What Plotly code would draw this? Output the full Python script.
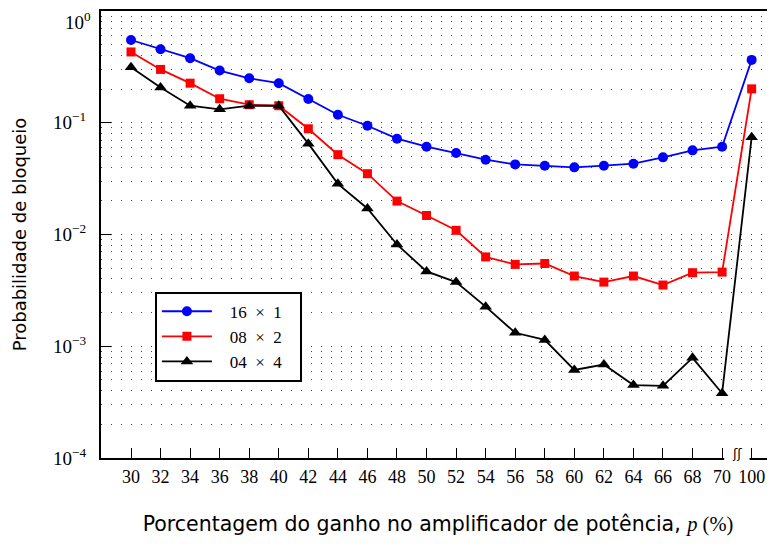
import plotly.graph_objects as go

# gain percentage p (%) -- the axis is broken between 70 and 100
p_values = [30, 32, 34, 36, 38, 40, 42, 44, 46, 48, 50,
            52, 54, 56, 58, 60, 62, 64, 66, 68, 70, 100]

# blocking probability for each switch arrangement
blk_16x1 = [0.55, 0.455, 0.378, 0.293, 0.25, 0.226, 0.163, 0.118, 0.094, 0.072, 0.061,
            0.0536, 0.0467, 0.0424, 0.0413, 0.0399, 0.0413, 0.043, 0.049, 0.0566, 0.061, 0.365]
blk_08x2 = [0.43, 0.30, 0.226, 0.164, 0.145, 0.142, 0.0883, 0.0518, 0.035, 0.0199, 0.0148,
            0.0109, 0.0063, 0.0054, 0.0055, 0.00425, 0.00375, 0.00425, 0.00353, 0.00455, 0.00461, 0.201]
blk_04x4 = [0.314, 0.207, 0.142, 0.132, 0.142, 0.142, 0.065, 0.0284, 0.0171, 0.00814, 0.00467,
            0.00375, 0.00226, 0.00132, 0.00114, 0.000614, 0.000686, 0.000449, 0.000442, 0.000787, 0.00038, 0.074]

series_names = ["16 × 1", "08 × 2", "04 × 4"]

y_tickvals = [1e-4, 1e-3, 1e-2, 1e-1, 1]
y_ticktext = ["10<sup>\u22124</sup>", "10<sup>\u22123</sup>", "10<sup>\u22122</sup>",
              "10<sup>\u22121</sup>", "10<sup>0</sup>"]

SERIF = "Liberation Serif"
SANS = "DejaVu Sans"

# evenly spaced slots, one per tick label
xpos = list(range(len(p_values)))

styles = [
    dict(color="#0000ff", symbol="circle", size=10),
    dict(color="#ff0000", symbol="square", size=9),
    dict(color="#000000", symbol="triangle-up", size=11),
]

NB = "\u00a0"
fig = go.Figure()
for name, ys, st in zip(series_names, [blk_16x1, blk_08x2, blk_04x4], styles):
    # pad the label so the legend box gets the reference's proportions
    label = NB * 3 + name.replace(" ", NB * 2) + NB * 3
    fig.add_trace(go.Scatter(
        x=xpos, y=ys, name=label, mode="lines+markers",
        line=dict(color=st["color"], width=1.8),
        marker=dict(color=st["color"], symbol=st["symbol"], size=st["size"],
                    line=dict(width=0)),
        cliponaxis=False))

minor_vals = [m * 10 ** e for e in range(-4, 0) for m in range(2, 10)]

fig.update_xaxes(
    range=[-1.015, 21.79], tickvals=xpos, ticktext=[str(v) for v in p_values],
    ticks="inside", ticklen=10, tickwidth=1, tickcolor="black",
    showline=True, linewidth=2, linecolor="black", mirror=True,
    showgrid=False, zeroline=False, automargin=False,
    ticklabelstandoff=1, ticklabeloverflow="allow",
    tickfont=dict(family=SERIF, size=18, color="black"),
    title=dict(
        text="Porcentagem do ganho no amplificador de potência, "
             f"<span style='font-family:{SERIF}'><i>p</i> (%)</span>",
        font=dict(family=SANS, size=20.5, color="black"), standoff=31))

# the top decade label would be cut by the page edge, so it is placed
# separately just below it
fig.update_yaxes(
    type="log", range=[-4, 0], tickvals=y_tickvals[:-1], ticktext=y_ticktext[:-1],
    ticks="inside", ticklen=10, tickwidth=1, tickcolor="black",
    showline=True, linewidth=2, linecolor="black",
    showgrid=True, gridcolor="#444", gridwidth=1, griddash="1px,9px",
    minor=dict(tickvals=minor_vals, showgrid=True, gridcolor="#444",
               gridwidth=1, griddash="1px,9px", ticks=""),
    zeroline=False, automargin=False, ticklabelstandoff=9,
    tickfont=dict(family=SERIF, size=19, color="black"),
    title=dict(text="Probabilidade de bloqueio",
               font=dict(family=SANS, size=18, color="black"), standoff=22))
fig.add_annotation(x=0, xref="paper", y=1, yref="paper", text=y_ticktext[-1],
                   showarrow=False, xanchor="right", yanchor="top",
                   xshift=-9, yshift=3, borderpad=0,
                   font=dict(family=SERIF, size=19, color="black"))

# axis break between 70 and 100
fig.add_shape(type="rect", xref="x", yref="paper", x0=20.07, x1=20.93,
              y0=-0.012, y1=0.008, fillcolor="white", line=dict(width=0),
              layer="above")
fig.add_annotation(x=20.5, xref="x", y=0, yref="paper", text="ʃʃ",
                   showarrow=False, yanchor="bottom", yshift=-5,
                   font=dict(family=SANS, size=13, color="black"))

# the page body adds an 8px margin, so the figure is 8px smaller than the
# window and the margins are trimmed to keep the plot area in place
fig.update_layout(
    width=767, height=538,
    margin=dict(l=93, r=0, t=3, b=88),
    plot_bgcolor="white", paper_bgcolor="white",
    legend=dict(x=0.08, y=0.372, xanchor="left", yanchor="top",
                bgcolor="white", bordercolor="black", borderwidth=2,
                font=dict(family=SERIF, size=17, color="black"),
                itemwidth=50),
)

fig.write_html("out.html")
